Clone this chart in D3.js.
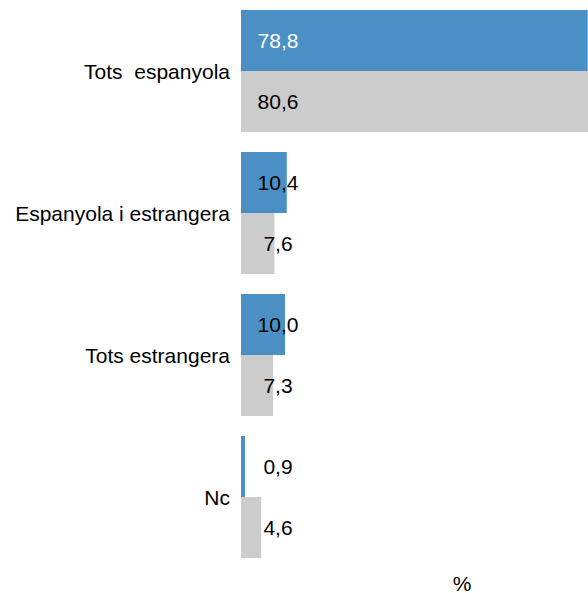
<!DOCTYPE html>
<html>
<head>
<meta charset="utf-8">
<script src="https://cdn.jsdelivr.net/npm/d3@7"></script>
<style>
  body { margin: 0; background: #fff; }
  svg { display: block; font-family: "Liberation Sans", Arial, sans-serif; }
</style>
</head>
<body>
<div id="viz"></div>
<script>
const categories = ['Tots  espanyola', 'Espanyola i estrangera', 'Tots estrangera', 'Nc'];
const seriesNames = ['A', 'B'];
const seriesA = [78.8, 10.4, 10.0, 0.9];
const seriesB = [80.6, 7.6, 7.3, 4.6];
const unitLabel = '%';

const width = 588, height = 593, fontSize = 21;
const colors = { A: '#4a90c4', B: '#cccccc' };

const rows = categories.map((c, i) => ({ cat: c, A: seriesA[i], B: seriesB[i] }));
const fmt = v => d3.format('.1f')(v).replace('.', ',');

let x = d3.scaleLinear()
    .domain([0, 100])
    .range([241, 681]);

let y = d3.scaleBand()
    .domain(categories)
    .range([0, 568])
    .paddingInner(20 / 142)
    .paddingOuter(10 / 142);

let ySub = d3.scaleBand()
    .domain(seriesNames)
    .range([0, y.bandwidth()]);

let svg = d3.select('#viz')
    .append('svg')
    .attr('width', width)
    .attr('height', height);

let groups = svg.selectAll('g.cat').data(rows)
    .enter()
    .append('g')
    .attr('class', 'cat')
    .attr('transform', d => `translate(0,${y(d.cat)})`);

let cells = groups.selectAll('g.bar')
    .data(d => seriesNames.map(s => ({ s: s, v: d[s] })))
    .enter()
    .append('g')
    .attr('class', 'bar');

cells.append('rect')
    .attr('x', x(0))
    .attr('y', d => ySub(d.s))
    .attr('width', d => x(d.v) - x(0))
    .attr('height', ySub.bandwidth())
    .attr('fill', d => colors[d.s]);

cells.append('text')
    .attr('x', x(0) + 37)
    .attr('y', d => ySub(d.s) + ySub.bandwidth() / 2)
    .attr('text-anchor', 'middle')
    .attr('dominant-baseline', 'central')
    .attr('font-size', fontSize)
    .attr('fill', d => (d.s === 'A' && x(d.v) - x(0) > 60) ? '#ffffff' : '#000000')
    .text(d => fmt(d.v));

// category labels
svg.selectAll('text.cat')
    .data(categories)
    .enter()
    .append('text')
    .attr('class', 'cat')
    .attr('x', x(0) - 11)
    .attr('y', d => y(d) + y.bandwidth() / 2)
    .attr('text-anchor', 'end')
    .attr('dominant-baseline', 'central')
    .attr('font-size', fontSize)
    .attr('fill', '#000')
    .style('white-space', 'pre')
    .text(d => d);

svg.append('text')
    .attr('x', 462)
    .attr('y', 583)
    .attr('text-anchor', 'middle')
    .attr('dominant-baseline', 'central')
    .attr('font-size', fontSize)
    .text(unitLabel);
</script>
</body>
</html>
